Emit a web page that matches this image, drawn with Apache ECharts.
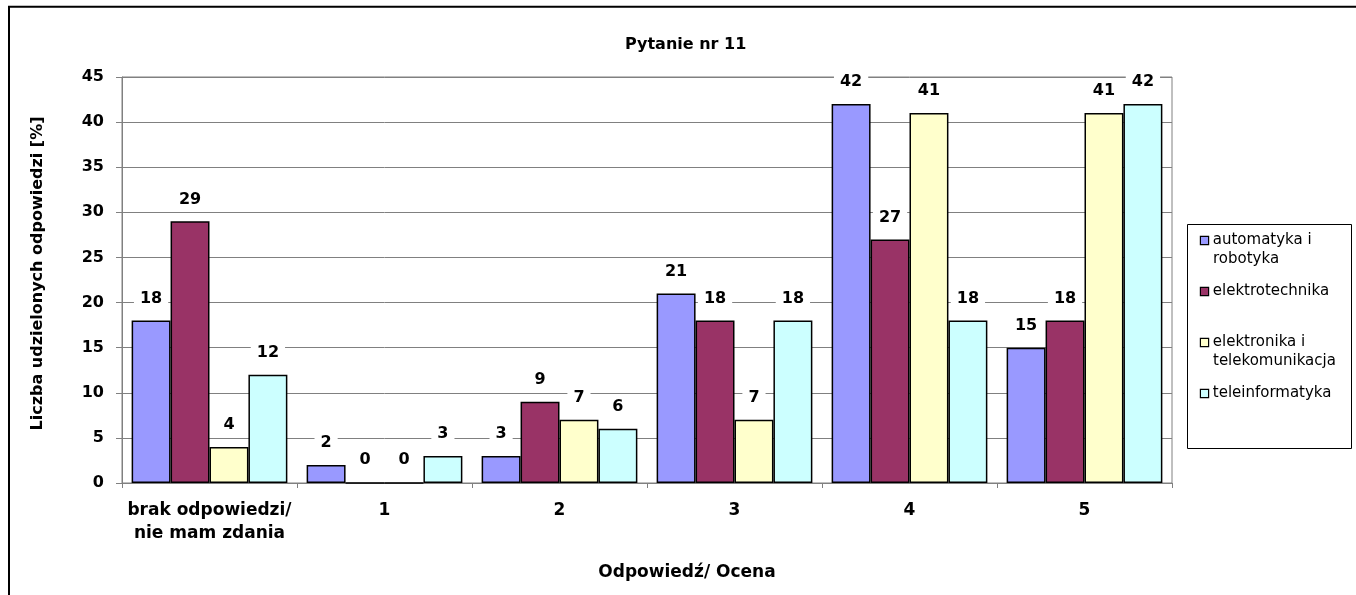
<!DOCTYPE html>
<html>
<head>
<meta charset="utf-8">
<script src="https://cdn.jsdelivr.net/npm/echarts@6/dist/echarts.min.js"></script>
<style>
  html, body { margin: 0; padding: 0; background: #fff; }
  #chart { width: 1356px; height: 595px; }
</style>
</head>
<body>
<div id="chart"></div>
<script>
const categories = ["brak odpowiedzi/\nnie mam zdania", "1", "2", "3", "4", "5"];
const seriesNames = ["automatyka i robotyka", "elektrotechnika", "elektronika i telekomunikacja", "teleinformatyka"];
const automatyka = [18, 2, 3, 21, 42, 15];
const elektrotechnika = [29, 0, 9, 18, 27, 18];
const elektronika = [4, 0, 7, 7, 41, 41];
const teleinformatyka = [12, 3, 6, 18, 18, 42];
const yTicks = { min: 0, max: 45, interval: 5 };

const colors = ["#9999FF", "#993366", "#FFFFCC", "#CCFFFF"];
const values = [automatyka, elektrotechnika, elektronika, teleinformatyka];
const font = "DejaVu Sans";

const chart = echarts.init(document.getElementById("chart"));

// legend: small square on the first line, wrapped text indented under it
const rich = { t: { fontFamily: font, fontSize: 15, lineHeight: 19, color: "#000" }, ind: { width: 12 } };
colors.forEach((c, i) => {
  rich["sq" + i] = { width: 7, height: 7, backgroundColor: c, borderColor: "#000", borderWidth: 1.2 };
});

function legendText(name) {
  const i = seriesNames.indexOf(name);
  const parts = name.replace(" i ", " i\n").split("\n");
  const first = "{sq" + i + "|}{t| " + parts[0] + "}";
  const second = parts[1] ? "{ind|}{t|" + parts[1] + "}" : "{ind|}{t| }";
  return first + "\n" + second;
}

const option = {
  backgroundColor: "#fff",
  animation: false,
  title: {
    text: "Pytanie nr 11",
    left: 625,
    top: 37,
    padding: 0,
    textStyle: { fontFamily: font, fontSize: 16, fontWeight: "bold", color: "#000" },
  },
  legend: {
    orient: "vertical",
    left: 1196,
    top: 233,
    padding: 0,
    itemGap: 17,
    itemWidth: 0,
    itemHeight: 0,
    itemStyle: { opacity: 0, borderWidth: 0 },
    selectedMode: false,
    data: seriesNames,
    formatter: legendText,
    textStyle: { rich: rich },
  },
  grid: {
    left: 122,
    right: 184,
    top: 77,
    bottom: 112,
    show: true,
    borderColor: "#808080",
    borderWidth: 1,
    outerBoundsMode: "none",
  },
  xAxis: {
    type: "category",
    data: categories,
    axisLine: { lineStyle: { color: "#808080", width: 1 } },
    axisTick: { show: true, interval: 0, length: 5, lineStyle: { color: "#808080" } },
    axisLabel: {
      interval: 0,
      color: "#000",
      fontFamily: font,
      fontSize: 17,
      fontWeight: "bold",
      lineHeight: 23,
      margin: 16,
    },
    name: "Odpowiedź/ Ocena",
    nameLocation: "middle",
    nameGap: 81,
    nameTextStyle: {
      color: "#000",
      fontFamily: font,
      fontSize: 17,
      fontWeight: "bold",
      padding: [0, 0, 0, 80],
    },
  },
  yAxis: {
    type: "value",
    min: yTicks.min,
    max: yTicks.max,
    interval: yTicks.interval,
    axisLine: { show: true, lineStyle: { color: "#808080", width: 1 } },
    axisTick: { show: true, length: 6, lineStyle: { color: "#808080" } },
    splitLine: { lineStyle: { color: "#808080", width: 1 } },
    axisLabel: {
      color: "#000",
      fontFamily: font,
      fontSize: 16,
      fontWeight: "bold",
      margin: 18,
    },
    name: "Liczba udzielonych odpowiedzi [%]",
    nameLocation: "middle",
    nameGap: 76,
    nameTextStyle: {
      color: "#000",
      fontFamily: font,
      fontSize: 16,
      fontWeight: "bold",
      padding: [0, 0, 0, 13],
    },
  },
  series: seriesNames.map((name, i) => ({
    name: name,
    type: "bar",
    data: values[i],
    barGap: "0%",
    barCategoryGap: "11%",
    itemStyle: { color: colors[i], borderColor: "#000", borderWidth: 1.5 },
    label: {
      show: true,
      position: "top",
      distance: 11,
      color: "#000",
      fontFamily: font,
      fontSize: 16,
      fontWeight: "bold",
      lineHeight: 18,
      backgroundColor: "#fff",
      padding: [2, 6],
    },
  })),
  graphic: [
    {
      type: "rect",
      silent: true,
      z: 100,
      shape: { x: 9, y: 6.7, width: 1400, height: 700 },
      style: { fill: "none", stroke: "#000", lineWidth: 2 },
    },
    {
      type: "rect",
      silent: true,
      z: -1,
      shape: { x: 1187.5, y: 224.5, width: 164, height: 224 },
      style: { fill: "#fff", stroke: "#000", lineWidth: 1 },
    },
  ],
};

chart.setOption(option);
window.addEventListener("resize", () => chart.resize());
</script>
</body>
</html>
